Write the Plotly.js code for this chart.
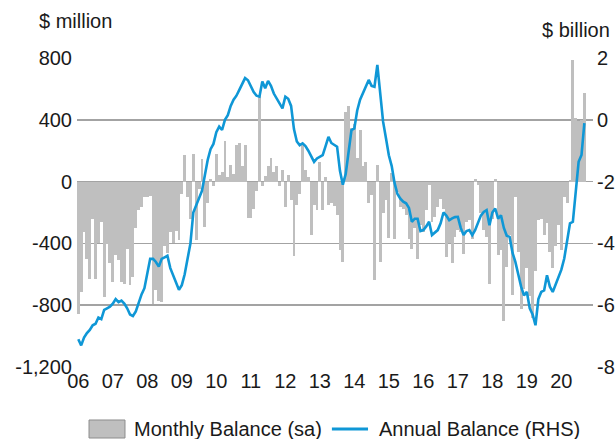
<!DOCTYPE html>
<html>
<head>
<meta charset="utf-8">
<script src="https://cdn.plot.ly/plotly-3.0.1.min.js"></script>
<style>html,body{margin:0;padding:0;background:#fff;}#chart{width:616px;height:439px;}</style>
</head>
<body>
<div id="chart"></div>
<script>
// Monthly data, Jan 2006 onward
var startYear = 2006;
var monthlyBalance = [
  -855, -714, -325, -504, -628, -239, -628, -400, -260, -746, -405, -530,
  -650, -476, -510, -650, -660, -433, -670, -617, -300, -185, -165, -100,
  -98, -95, -790, -700, -770, -780, -420, -465, -325, -400, -320, -380,
  -80, 172, -100, -240, 180, -380, -50, 146, -293, -140, 20, -30,
  178, 40, 60, 264, 30, 108, 50, 235, 247, 100, 240, -235,
  -238, -175, -60, 560, -30, 35, 100, 150, 60, 100, -30, 75,
  -163, 43, -120, -480, -150, -80, 237, 75, 30, -346, -150, -184,
  128, -184, 30, -150, -140, -160, -216, -445, -518, 450, 490, 350,
  376, 150, 333, 100, 128, -141, -87, -638, 107, -518, -206, -120,
  -363, 54, -374, -66, -163, -180, -216, -374, -436, -300, -500, -280,
  -325, -185, -20, -260, -230, -164, -110, -180, -488, -400, -530, -360,
  -315, -326, -466, -260, -250, -370, 16, -20, -200, -315, -360, -660,
  -240, 14, -476, -440, -900, -552, -346, -735, -98, -454, -822, -692,
  -562, -740, -880, -580, -250, -240, -346, -270, -454, -562, -420, -281,
  -440, -98, -140, 10, 790, 410, 390, 400, 576
];
var annualBalance = [
  -7.1, -7.3, -7.05, -6.9, -6.8, -6.65, -6.6, -6.4, -6.45, -6.15, -6.1, -6.05,
  -5.95, -5.8, -5.9, -5.85, -5.95, -6.1, -6.3, -6.35, -6.2, -5.9, -5.65, -5.45,
  -5.0, -4.5, -4.5, -4.6, -4.75, -4.5, -4.45, -4.4, -4.8, -5.05, -5.3, -5.5,
  -5.35, -5.0, -4.5, -4.0, -3.0, -2.75, -2.55, -2.3, -1.8, -1.3, -0.95, -0.78,
  -0.4, -0.22, -0.33, 0.0, 0.15, 0.45, 0.65, 0.78, 0.97, 1.15, 1.35, 1.28,
  1.1, 0.9, 0.78, 0.75, 1.24, 1.02, 1.26, 1.1, 0.85, 0.7, 0.55, 0.37,
  0.75, 0.68, 0.45, -0.3, -0.7, -0.82, -0.76, -0.85, -1.0, -1.2, -1.36, -1.25,
  -1.2, -1.14, -0.85, -0.55, -0.75, -0.82, -0.87, -1.65, -2.1, -1.75, -1.03, -0.33,
  -0.28, 0.3, 0.65, 0.85, 1.1, 1.29, 1.1, 1.07, 1.78, 0.9, -0.06, -0.6,
  -1.15, -1.5, -2.05, -2.4, -2.55, -2.65, -2.7, -2.85, -3.3, -3.2, -3.2, -3.6,
  -3.57, -3.45, -3.3, -3.73, -3.65, -3.57, -3.35, -3.0, -3.1, -3.25, -3.19, -3.15,
  -3.14, -3.5, -3.73, -3.6, -3.57, -3.73, -3.57, -3.3, -3.1, -2.98, -2.92, -3.41,
  -3.0, -2.87, -3.2, -3.09, -3.5, -3.75, -3.79, -4.3, -4.6, -5.0, -5.4, -5.68,
  -5.57, -6.1, -6.3, -6.65, -5.8, -5.57, -5.52, -5.03, -5.4, -5.57, -5.35, -5.1,
  -4.85, -4.49, -3.95, -3.35, -3.3, -2.22, -1.36, -1.14, -0.11
];
var yearLabels = ["06","07","08","09","10","11","12","13","14","15","16","17","18","19","20"];
var leftTicks = [800, 400, 0, -400, -800, -1200];
var leftTickText = ["800", "400", "0", "-400", "-800", "-1,200"];
var rightTicks = [2, 0, -2, -4, -6, -8];
var rightTickText = ["2", "0", "-2", "-4", "-6", "-8"];
var seriesNames = ["Monthly Balance (sa)", "Annual Balance (RHS)"];
var unitLeft = "$ million", unitRight = "$ billion";

var monthIdx = monthlyBalance.map(function (_, i) { return i; });
var yearTickVals = yearLabels.map(function (_, k) { return k * 12; });

var FONT = "Arial, 'Liberation Sans', sans-serif";
var TXT = "#1a1a1a";
var BAR = "#bfbfbf";
var LINE = "#0f97d6";

var traces = [
  { type: "bar", x: monthIdx, y: monthlyBalance, name: seriesNames[0],
    marker: { color: BAR, line: { width: 0 } }, width: 1, yaxis: "y",
    hoverinfo: "skip" },
  { type: "scatter", mode: "lines", x: monthIdx, y: annualBalance, name: seriesNames[1],
    line: { color: LINE, width: 2.6 }, yaxis: "y2", hoverinfo: "skip" }
];

var layout = {
  width: 616, height: 439,
  margin: { l: 77, r: 23, t: 58, b: 72 },
  paper_bgcolor: "#fff", plot_bgcolor: "#fff",
  showlegend: false, bargap: 0,
  font: { family: FONT, size: 20, color: TXT },
  xaxis: { range: [-0.45, 179], tickvals: yearTickVals, ticktext: yearLabels,
    showgrid: false, zeroline: false, showline: false, ticks: "",
    tickfont: { size: 20, color: TXT } },
  yaxis: { range: [-1200, 800], tickvals: leftTicks, ticktext: leftTickText,
    showgrid: true, gridcolor: "#a3a3a3", gridwidth: 1.5, zeroline: false,
    showline: false, ticks: "", ticklabelstandoff: 4, tickfont: { size: 20, color: TXT } },
  yaxis2: { range: [-8, 2], tickvals: rightTicks, ticktext: rightTickText,
    overlaying: "y", side: "right", showgrid: false, zeroline: false,
    showline: false, ticks: "", ticklabelstandoff: 3, tickfont: { size: 20, color: TXT } },
  annotations: [
    { text: unitLeft, xref: "paper", yref: "paper", x: -0.0775, y: 1.12,
      xanchor: "left", yanchor: "middle", showarrow: false, font: { size: 20, color: TXT } },
    { text: unitRight, xref: "paper", yref: "paper", x: 1.037, y: 1.09,
      xanchor: "right", yanchor: "middle", showarrow: false, font: { size: 20, color: TXT } },
    { text: seriesNames[0], xref: "paper", yref: "paper", x: 0.106, y: -0.2006,
      xanchor: "left", yanchor: "middle", showarrow: false, font: { size: 20, color: TXT } },
    { text: seriesNames[1], xref: "paper", yref: "paper", x: 0.581, y: -0.2006,
      xanchor: "left", yanchor: "middle", showarrow: false, font: { size: 20, color: TXT } }
  ],
  shapes: [
    { type: "rect", xref: "paper", yref: "paper", x0: 0.0233, x1: 0.093, y0: -0.2298, y1: -0.1715,
      fillcolor: BAR, line: { color: "#8c8c8c", width: 1 } },
    { type: "line", xref: "paper", yref: "paper", x0: 0.494, x1: 0.564, y0: -0.2006, y1: -0.2006,
      line: { color: LINE, width: 3 } }
  ]
};

Plotly.newPlot("chart", traces, layout, { staticPlot: true, displayModeBar: false });
</script>
</body>
</html>
